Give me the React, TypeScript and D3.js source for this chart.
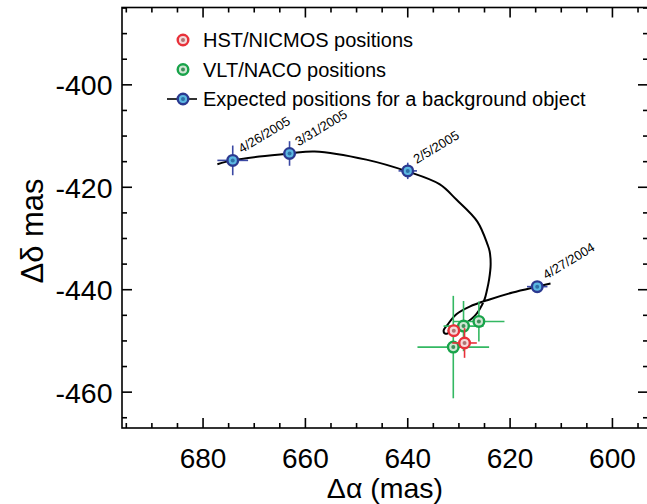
import React from "react";
import * as d3 from "d3";

// Expected background-object track (Δα, Δδ in mas), ordered in time
const curveRA = [612.1, 614.7, 619.5, 624.0, 627.9, 630.5, 632.2, 633.0, 632.6, 630.9, 628.5, 627.0, 626.0, 625.0, 624.5, 624.1, 623.8, 624.0, 624.4, 626.4, 630.5, 633.8, 640.1, 648.1, 658.2, 663.1, 669.0, 674.3, 677.2];
const curveDec = [-438.8, -439.4, -440.55, -441.9, -443.3, -444.8, -446.8, -448.0, -448.6, -447.8, -446.4, -445.2, -443.9, -441.9, -440.0, -438.0, -435.1, -432.5, -431.2, -426.7, -422.4, -419.4, -416.9, -414.6, -413.0, -413.4, -414.0, -414.75, -415.5];

// Expected positions for a background object
const expLabels = ["4/27/2004", "2/5/2005", "3/31/2005", "4/26/2005"];
const expRA = [614.7, 640.0, 663.1, 674.2];
const expDec = [-439.4, -416.8, -413.4, -414.75];
const expErrRA = [2.0, 1.8, 1.3, 3.0];
const expErrDec = [1.0, 1.6, 2.4, 2.9];

// HST/NICMOS
const hstRA = [631.0, 628.9];
const hstDec = [-448.0, -450.4];
const hstErrRA = [1.2, 2.4];
const hstErrDec = [1.2, 2.9];

// VLT/NACO
const vltRA = [629.1, 626.1, 631.1];
const vltDec = [-447.1, -446.2, -451.2];
const vltErrRA = [3.9, 5.0, 7.0];
const vltErrDec = [4.9, 3.9, 10.0];

const xTicks = [680, 660, 640, 620, 600];
const yTicks = [-400, -420, -440, -460];
const legendLabels = ["HST/NICMOS positions", "VLT/NACO positions", "Expected positions for a background object"];

const W = 647, H = 504;
const L = 122, R = 648, T = 7.5, B = 428;
const FONT = "'Liberation Sans', Arial, Helvetica, sans-serif";

const x = d3.scaleLinear().domain([695.84, 593.05]).range([L, R]);
const y = d3.scaleLinear().domain([-384.9, -467.0]).range([T, B]);

const STY = {
  hst: { ring: "#e8313a", fill: "#f4dada", dot: "#b07272", err: "#e8313a" },
  vlt: { ring: "#18a34a", fill: "#cfe6d3", dot: "#3f8f5a", err: "#33b862" },
  exp: { ring: "#2b3990", fill: "#5bb8e2", dot: "#2f70a8", err: "#3b48a3" },
};

function Marker({ cx, cy, s }: { cx: number; cy: number; s: any }) {
  return (
    <g>
      <circle cx={cx} cy={cy} r={5.3} fill={s.fill} stroke={s.ring} strokeWidth={2.4} />
      <circle cx={cx} cy={cy} r={2} fill={s.dot} />
    </g>
  );
}

function ErrBars({ ra, dec, era, edec, color }: any) {
  return (
    <g stroke={color} strokeWidth={1.6}>
      {ra.map((v: number, i: number) => (
        <g key={i}>
          <line x1={x(v - era[i])} x2={x(v + era[i])} y1={y(dec[i])} y2={y(dec[i])} />
          <line x1={x(v)} x2={x(v)} y1={y(dec[i] - edec[i])} y2={y(dec[i] + edec[i])} />
        </g>
      ))}
    </g>
  );
}

export default function App() {
  const line = d3
    .line<number>()
    .x((_, i) => x(curveRA[i]))
    .y((d) => y(d))
    .curve(d3.curveCatmullRom.alpha(0.5));

  const xMinor = d3.range(595, 696, 5);
  const yMinor = d3.range(-465, -384, 5);

  return (
    <div style={{ position: "absolute", left: 0, top: 0 }}>
      <svg width={W} height={H} style={{ display: "block", background: "#fff" }} fontFamily={FONT}>
        {/* frame */}
        <g stroke="#000" strokeWidth={1.6} fill="none">
          <rect x={L} y={T} width={R - L} height={B - T} />
          {xMinor.map((v) => {
            const major = v % 20 === 0;
            const len = major ? 10 : 5;
            return (
              <g key={"x" + v}>
                <line x1={x(v)} x2={x(v)} y1={B} y2={B - len} />
                <line x1={x(v)} x2={x(v)} y1={T} y2={T + len} />
              </g>
            );
          })}
          {yMinor.map((v) => {
            const major = v % 20 === 0;
            const len = major ? 10 : 5;
            return (
              <g key={"y" + v}>
                <line x1={L} x2={L + len} y1={y(v)} y2={y(v)} />
                <line x1={R} x2={R - len} y1={y(v)} y2={y(v)} />
              </g>
            );
          })}
        </g>
        {/* tick labels */}
        {xTicks.map((v) => (
          <text key={"xl" + v} x={x(v)} y={468} fontSize={28} textAnchor="middle" fill="#000">
            {v}
          </text>
        ))}
        {yTicks.map((v) => (
          <text key={"yl" + v} x={112.5} y={y(v) + 10.5} fontSize={28.5} textAnchor="end" fill="#000">
            {v}
          </text>
        ))}
        {/* axis titles */}
        <text x={385} y={498} fontSize={28.5} textAnchor="middle" fill="#000">
          Δα (mas)
        </text>
        <text transform="translate(43,231) rotate(-90)" fontSize={31} textAnchor="middle" fill="#000">
          Δδ mas
        </text>

        {/* track */}
        <path d={line(curveDec) || ""} fill="none" stroke="#000" strokeWidth={2} />

        {/* expected positions */}
        <ErrBars ra={expRA} dec={expDec} era={expErrRA} edec={expErrDec} color={STY.exp.err} />
        {expRA.map((v, i) => (
          <Marker key={"e" + i} cx={x(v)} cy={y(expDec[i])} s={STY.exp} />
        ))}
        {expRA.map((v, i) => (
          <text
            key={"el" + i}
            transform={`translate(${x(v) + 9},${y(expDec[i]) - 7}) rotate(-31)`}
            fontSize={13}
            fill="#000"
          >
            {expLabels[i]}
          </text>
        ))}

        {/* VLT */}
        <ErrBars ra={vltRA} dec={vltDec} era={vltErrRA} edec={vltErrDec} color={STY.vlt.err} />
        {vltRA.map((v, i) => (
          <Marker key={"v" + i} cx={x(v)} cy={y(vltDec[i])} s={STY.vlt} />
        ))}
        {/* HST */}
        <ErrBars ra={hstRA} dec={hstDec} era={hstErrRA} edec={hstErrDec} color={STY.hst.err} />
        {hstRA.map((v, i) => (
          <Marker key={"h" + i} cx={x(v)} cy={y(hstDec[i])} s={STY.hst} />
        ))}

        {/* legend */}
        {legendLabels.map((lab, i) => {
          const ly = 40 + i * 29.5;
          const s = i === 0 ? STY.hst : i === 1 ? STY.vlt : STY.exp;
          return (
            <g key={"lg" + i}>
              {i === 2 && <line x1={167} x2={197} y1={ly} y2={ly} stroke="#000" strokeWidth={1.6} />}
              <Marker cx={183} cy={ly} s={s} />
              <text x={203} y={ly + 7} fontSize={20} fill="#000">
                {lab}
              </text>
            </g>
          );
        })}
      </svg>
    </div>
  );
}
